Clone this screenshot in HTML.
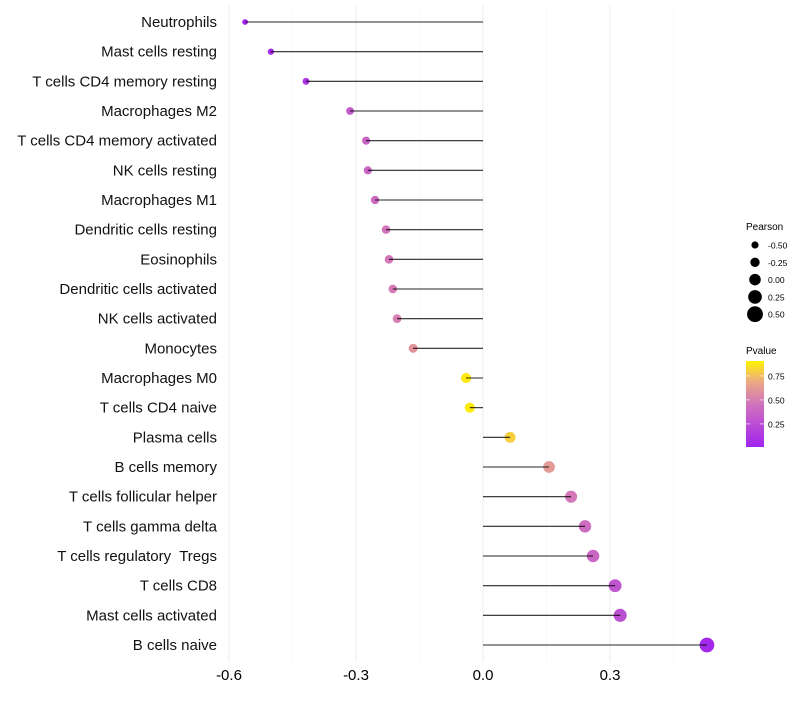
<!DOCTYPE html>
<html><head><meta charset="utf-8"><style>
body{margin:0;background:#fff;font-family:"Liberation Sans",sans-serif}
text{white-space:pre}
</style></head><body>
<svg id="c" width="800" height="700" xmlns="http://www.w3.org/2000/svg"></svg>
<script>
const categories=["Neutrophils","Mast cells resting","T cells CD4 memory resting","Macrophages M2","T cells CD4 memory activated","NK cells resting","Macrophages M1","Dendritic cells resting","Eosinophils","Dendritic cells activated","NK cells activated","Monocytes","Macrophages M0","T cells CD4 naive","Plasma cells","B cells memory","T cells follicular helper","T cells gamma delta","T cells regulatory  Tregs","T cells CD8","Mast cells activated","B cells naive"];
const pearson=[-0.562,-0.501,-0.418,-0.314,-0.276,-0.272,-0.255,-0.229,-0.222,-0.213,-0.203,-0.165,-0.040,-0.031,0.064,0.156,0.208,0.241,0.260,0.312,0.324,0.529];
const pvalue=[0.03,0.05,0.12,0.33,0.38,0.39,0.42,0.48,0.49,0.51,0.53,0.62,0.88,0.89,0.82,0.64,0.50,0.43,0.40,0.30,0.27,0.05];
const xTicks=[-0.6,-0.3,0.0,0.3];
const xTickLabels=["-0.6","-0.3","0.0","0.3"];
const sizeLegend=[-0.5,-0.25,0,0.25,0.5];
const sizeLegendLabels=["-0.50","-0.25","0.00","0.25","0.50"];
const colorTicks=[0.75,0.5,0.25];
const colorTickLabels=["0.75","0.50","0.25"];

const svg=document.getElementById('c');const NS="http://www.w3.org/2000/svg";
function mk(t,a,p){const e=document.createElementNS(NS,t);for(const k in a)e.setAttribute(k,a[k]);(p||svg).appendChild(e);return e;}
const x=v=>483+v*(127/0.3);
const y=i=>22+i*(623/21);
const r=v=>Math.max(1.5,5.2+4.1*v);
function lerp(a,b,t){return a.map((c,i)=>Math.round(c+(b[i]-c)*t));}
function col(p){const s=[[0,[160,32,240]],[0.5,[212,120,185]],[0.75,[240,180,120]],[0.9,[255,240,0]],[1,[255,255,0]]];
 for(let i=0;i<s.length-1;i++){if(p<=s[i+1][0]){const t=(p-s[i][0])/(s[i+1][0]-s[i][0]);return 'rgb('+lerp(s[i][1],s[i+1][1],t).join(',')+')';}}return 'rgb(255,255,0)';}
const minor=[-0.45,-0.15,0.15,0.45];
minor.forEach(v=>{const g=mk('line',{x1:x(v),x2:x(v),y1:5,y2:662,stroke:'#f3f3f3','stroke-width':0.6});

});
xTicks.forEach((v,i)=>{const g=mk('line',{x1:x(v),x2:x(v),y1:5,y2:662,stroke:'#ebebeb','stroke-width':1});


const t=mk('text',{x:x(v),y:680,'font-size':15,'text-anchor':'middle',fill:'#000'});t.textContent=xTickLabels[i];

});
categories.forEach((c,i)=>{
 const t=mk('text',{x:217,y:y(i)+5,'font-size':15,'text-anchor':'end',fill:'#111'});t.textContent=c;
 
 
 const d=mk('circle',{cx:x(pearson[i]),cy:y(i),r:r(pearson[i]),fill:col(pvalue[i])});
 
 
 const l=mk('line',{x1:x(0),x2:x(pearson[i]),y1:y(i),y2:y(i),stroke:'#000','stroke-width':1.1,'stroke-opacity':0.85});
 
 
});
const st=mk('text',{x:746,y:230,'font-size':10,fill:'#000'});st.textContent='Pearson';


sizeLegend.forEach((v,i)=>{const yy=245+i*17.3;
 const c=mk('circle',{cx:755,cy:yy,r:r(v)*1.05+0.3,fill:'#000'});
 
 
 const t=mk('text',{x:768,y:yy+3.5,'font-size':8.5,fill:'#000'});t.textContent=sizeLegendLabels[i];
 
 });
const ct=mk('text',{x:746,y:354,'font-size':10,fill:'#000'});ct.textContent='Pvalue';


const defs=mk('defs',{});const lg=mk('linearGradient',{id:'g',x1:0,y1:1,x2:0,y2:0},defs);
[0,0.25,0.5,0.75,0.9,1].forEach(p=>mk('stop',{offset:p,'stop-color':col(p*0.9+0.02)},lg));
mk('stop',{offset:1,'stop-color':'#ffff00'},lg);
const cb=mk('rect',{x:746,y:361,width:18,height:86,fill:'url(#g)'});


const cy=p=>446-(p-0.02)*(24/0.25);
colorTicks.forEach((p,i)=>{mk('line',{x1:746,x2:750,y1:cy(p),y2:cy(p),stroke:'#fff','stroke-width':0.6});mk('line',{x1:760,x2:764,y1:cy(p),y2:cy(p),stroke:'#fff','stroke-width':0.6});
 const t=mk('text',{x:768,y:cy(p)+3.5,'font-size':8.5,fill:'#000'});t.textContent=colorTickLabels[i];
 
 });
</script>
</body></html>
